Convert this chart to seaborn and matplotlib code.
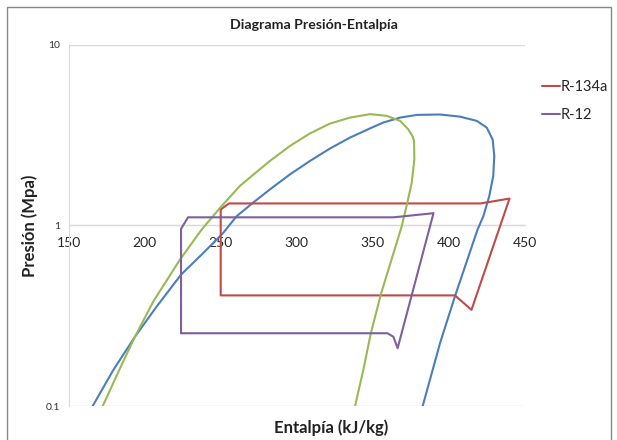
import matplotlib
matplotlib.use("Agg")
import matplotlib.pyplot as plt
from matplotlib.patches import Rectangle
from matplotlib.lines import Line2D
import seaborn as sns
import pandas as pd

sns.set_style("white")
plt.rcParams['font.family'] = ['Lato', 'DejaVu Sans']

# R-134a saturation dome (blue)
dome134_h = [165.8, 179.3, 193.6, 207.9, 223.9, 238.6, 251.7, 260.5, 271.4, 282.4,
             295.6, 308.8, 321.9, 335.1, 348.2, 357.0, 368.0, 379.0, 394.3, 407.4,
             418.4, 425.0, 428.9, 430.0, 429.3, 426.7, 422.8, 419.0, 404.1, 394.3, 382.9]
dome134_p = [0.100, 0.158, 0.242, 0.356, 0.534, 0.705, 0.911, 1.126, 1.34, 1.585,
             1.92, 2.28, 2.67, 3.07, 3.45, 3.72, 3.96, 4.10, 4.12, 4.01,
             3.80, 3.49, 3.00, 2.43, 1.88, 1.455, 1.126, 0.95, 0.405, 0.223, 0.100]

# R-12 saturation dome (green)
dome12_h = [172.4, 183.8, 193.6, 205.7, 223.2, 237.5, 249.5, 262.7, 282.4, 295.6,
            308.8, 321.9, 335.1, 348.2, 359.2, 368.0, 373.4, 376.3, 377.2, 377.4,
            375.7, 372.8, 369.1, 355.3, 348.7, 343.8, 338.4]
dome12_p = [0.100, 0.162, 0.242, 0.38, 0.647, 0.95, 1.25, 1.66, 2.28, 2.76,
            3.24, 3.67, 3.96, 4.14, 4.05, 3.80, 3.41, 3.11, 2.94, 2.33,
            1.73, 1.34, 0.99, 0.414, 0.251, 0.158, 0.100]

# R-134a cycle (red)
cyc134_h = [250.0, 255.5, 421.0, 440.0, 415.0, 404.1, 250.0, 250.0]
cyc134_p = [1.227, 1.325, 1.325, 1.41, 0.341, 0.41, 0.41, 1.227]

# R-12 cycle (purple)
cyc12_h = [223.9, 223.9, 228.5, 363.7, 390.0, 366.4, 363.6, 359.7, 223.9]
cyc12_p = [0.253, 0.958, 1.11, 1.11, 1.17, 0.209, 0.242, 0.253, 0.253]

x_ticks = [150, 200, 250, 300, 350, 400, 450]
y_ticks = [0.1, 1, 10]
y_labels = ["0.1", "1", "10"]

c_blue = "#4A7EBB"
c_red = "#BE4B48"
c_green = "#98B954"
c_purple = "#7D60A0"

fig = plt.figure(figsize=(6.17, 4.40), dpi=100)
ax = fig.add_axes([68.7 / 617, 1 - 406 / 440, (524.7 - 68.7) / 617, (406 - 45) / 440])

def draw(h, p, color):
    df = pd.DataFrame({"h": h, "p": p})
    sns.lineplot(data=df, x="h", y="p", sort=False, estimator=None, color=color,
                 linewidth=1.5, ax=ax, legend=False)

draw(dome134_h, dome134_p, c_blue)
draw(cyc134_h, cyc134_p, c_red)
draw(dome12_h, dome12_p, c_green)
draw(cyc12_h, cyc12_p, c_purple)

ax.set_yscale("log")
ax.set_xlim(150, 450)
ax.set_ylim(0.1, 10)
ax.set_xticks(x_ticks)
ax.set_xticklabels([str(t) for t in x_ticks], fontsize=8.5, color="#333333")
ax.set_yticks(y_ticks)
ax.set_yticklabels(y_labels, fontsize=7.5, color="#333333")
ax.yaxis.set_minor_locator(matplotlib.ticker.NullLocator())
ax.tick_params(axis="both", length=0)
ax.tick_params(axis="x", pad=8)
ax.tick_params(axis="y", pad=6)

ax.spines["bottom"].set_position(("data", 1))
for s in ["top", "right"]:
    ax.spines[s].set_visible(False)
ax.spines["bottom"].set_color("#D9D9D9")
ax.spines["left"].set_color("#D9D9D9")
ax.spines["bottom"].set_zorder(0)
ax.set_axisbelow(True)
ax.grid(axis="y", which="major", color="#D9D9D9", linewidth=1)
ax.grid(axis="x", visible=False)

ax.set_xlabel("")
ax.set_ylabel("")
fig.text(314 / 617, 1 - 25 / 440, "Diagrama Presión-Entalpía", ha="center", va="center",
         fontsize=10.2, fontweight="bold", color="#222222")
fig.text(331 / 617, 1 - 428 / 440, "Entalpía (kJ/kg)", ha="center", va="center",
         fontsize=12, fontweight="bold", color="#222222")
fig.text(30 / 617, 1 - 226 / 440, "Presión (Mpa)", ha="center", va="center", rotation=90,
         fontsize=12, fontweight="bold", color="#222222")

handles = [Line2D([0], [0], color=c_red, lw=1.5), Line2D([0], [0], color=c_purple, lw=1.5)]
fig.legend(handles, ["R-134a", "R-12"], loc="upper left",
           bbox_to_anchor=(536 / 617, 1 - 74 / 440), frameon=False, fontsize=10.5,
           handlelength=1.25, handletextpad=0.05, labelspacing=0.95, borderaxespad=0)

fig.patches.append(Rectangle((7 / 617, -0.02), (611 - 7) / 617, 1 - 7 / 440 + 0.02,
                             transform=fig.transFigure, fill=False, edgecolor="#888888",
                             linewidth=1))

fig.savefig("out.png", dpi=100)
